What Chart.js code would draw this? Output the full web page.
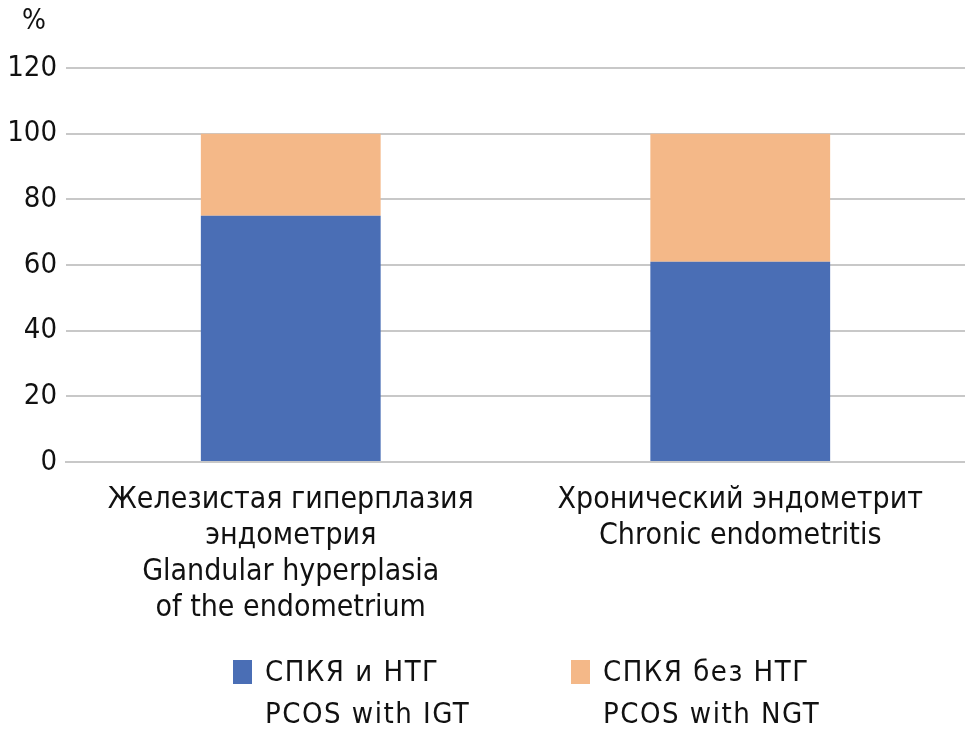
<!DOCTYPE html>
<html>
<head>
<meta charset="utf-8">
<script src="https://cdn.jsdelivr.net/npm/chart.js@4/dist/chart.umd.min.js"></script>
<style>
  body { margin: 0; background: #fff; }
  #wrap { position: relative; width: 965px; height: 736px; }
  .font { font-family: "Liberation Sans Narrow", "DejaVu Sans Condensed", sans-serif; color: #111; }
  #unit { position: absolute; left: 22px; top: 3px; font-size: 28px; }
  .leg { position: absolute; top: 650px; font-size: 29px; line-height: 42px; letter-spacing: 1.5px; }
  .leg i { position: absolute; left: -32px; top: 10px; width: 19px; height: 24px; }
</style>
</head>
<body>
<div id="wrap" class="font">
  <canvas id="chart" width="965" height="736"></canvas>
  <div id="unit">%</div>
  <div id="legend"></div>
</div>
<script>
// categories (each one split into lines)
const categories = [
    ['Железистая гиперплазия', 'эндометрия', 'Glandular hyperplasia', 'of the endometrium'],
    ['Хронический эндометрит', 'Chronic endometritis']
];
const seriesNames = [
    ['СПКЯ и НТГ', 'PCOS with IGT'],
    ['СПКЯ без НТГ', 'PCOS with NGT']
];
const withIGT = [75, 61];
const withNGT = [25, 39];
const colors = ['#4a6eb5', '#f4b888'];

const fontFamily = '"Liberation Sans Narrow", "DejaVu Sans Condensed", sans-serif';

// legend built as html
const legendLeft = [265, 603];
document.getElementById('legend').innerHTML = seriesNames.map((name, i) => `
    <div class="leg" style="left:${legendLeft[i]}px">
        <i style="background:${colors[i]}"></i>${name.join('<br>')}
    </div>
`).join('');

new Chart(document.getElementById('chart'), {
    type: 'bar',
    data: {
        labels: categories,
        datasets: [
            { label: seriesNames[0].join(' '), data: withIGT, backgroundColor: colors[0] },
            { label: seriesNames[1].join(' '), data: withNGT, backgroundColor: colors[1] }
        ]
    },
    options: {
        responsive: false,
        animation: false,
        barPercentage: 0.4,
        categoryPercentage: 1,
        layout: { padding: { top: 68, bottom: 94, left: 0, right: 0 } },
        plugins: {
            legend: { display: false },
            tooltip: { enabled: false }
        },
        scales: {
            x: {
                stacked: true,
                grid: { display: false },
                border: { color: '#c8c8c8', width: 2 },
                ticks: {
                    color: '#111',
                    padding: 12,
                    maxRotation: 0,
                    font: { family: fontFamily, size: 30, lineHeight: 1.2 }
                },
                afterFit: (scale) => { scale.height = 180; }
            },
            y: {
                stacked: true,
                min: 0,
                max: 120,
                grid: { color: '#c8c8c8', lineWidth: 2, drawTicks: false },
                border: { display: false },
                ticks: {
                    stepSize: 20,
                    color: '#111',
                    padding: 9,
                    font: { family: fontFamily, size: 29 }
                },
                afterFit: (scale) => { scale.width = 66; }
            }
        }
    }
});
</script>
</body>
</html>
